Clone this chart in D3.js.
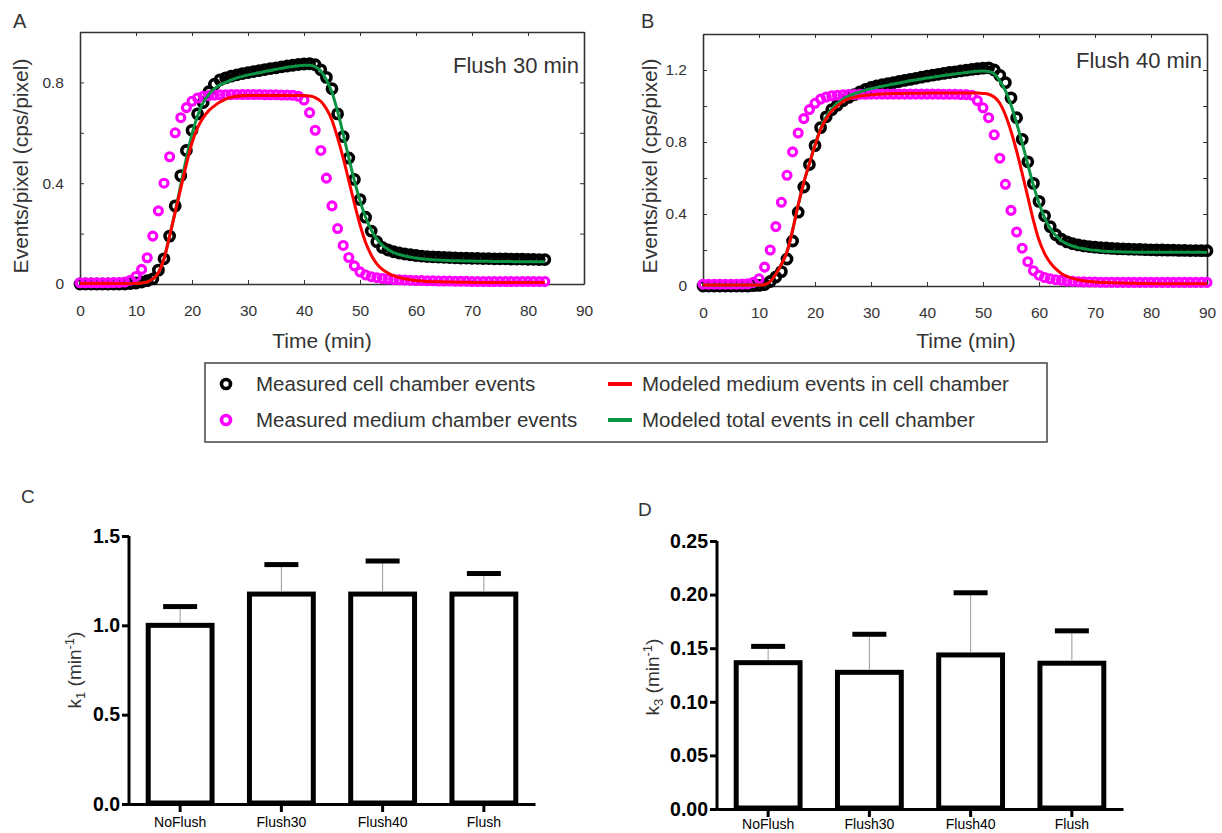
<!DOCTYPE html>
<html>
<head>
<meta charset="utf-8">
<script src="https://cdn.jsdelivr.net/npm/d3@7"></script>
<style>
  body { margin: 0; background: #fff; }
  svg text { font-family: "Liberation Sans", Arial, sans-serif; }
</style>
</head>
<body>
<svg id="fig" width="1222" height="833"></svg>
<script>
// sample times (min)
const minutesA = d3.range(0, 84);
const minutesB = d3.range(0, 91);

// panel A - flush 30 min
const cellA = [
  0, 0, 0, 0, 0, 0, 0, 0, 0, 0.002,
  0.004, 0.008, 0.013, 0.02, 0.055, 0.10, 0.19, 0.31, 0.43, 0.53,
  0.61, 0.675, 0.72, 0.763, 0.793, 0.81, 0.818, 0.825, 0.83, 0.835,
  0.839, 0.843, 0.847, 0.851, 0.855, 0.858, 0.862, 0.865, 0.868, 0.871,
  0.873, 0.874, 0.87, 0.85, 0.82, 0.775, 0.675, 0.585, 0.50, 0.415,
  0.335, 0.265, 0.21, 0.168, 0.145, 0.135, 0.128, 0.123, 0.119, 0.116,
  0.113, 0.111, 0.109, 0.108, 0.107, 0.106, 0.105, 0.104, 0.103, 0.103,
  0.102, 0.102, 0.101, 0.101, 0.1, 0.1, 0.1, 0.099, 0.099, 0.099,
  0.098, 0.098, 0.097, 0.097
];
const mediumA = [
  0.005, 0.005, 0.005, 0.005, 0.005, 0.005, 0.006, 0.006, 0.008, 0.015,
  0.03, 0.058, 0.104, 0.19, 0.29, 0.40, 0.505, 0.60, 0.66, 0.70,
  0.725, 0.738, 0.745, 0.748, 0.75, 0.751, 0.751, 0.752, 0.752, 0.752,
  0.752, 0.752, 0.752, 0.751, 0.751, 0.751, 0.75, 0.75, 0.749, 0.745,
  0.73, 0.68, 0.61, 0.53, 0.42, 0.31, 0.22, 0.153, 0.105, 0.072,
  0.048, 0.036, 0.029, 0.025, 0.022, 0.02, 0.018, 0.017, 0.016, 0.015,
  0.014, 0.014, 0.013, 0.013, 0.012, 0.012, 0.012, 0.011, 0.011, 0.011,
  0.01, 0.01, 0.01, 0.01, 0.01, 0.01, 0.01, 0.01, 0.01, 0.01,
  0.01, 0.01, 0.01, 0.01
];
const modelMediumA = [
  0.002, 0.002, 0.002, 0.002, 0.002, 0.002, 0.002, 0.002, 0.002, 0.002,
  0.002, 0.004, 0.008, 0.02, 0.045, 0.10, 0.19, 0.285, 0.38, 0.475,
  0.56, 0.62, 0.66, 0.688, 0.707, 0.722, 0.734, 0.741, 0.745, 0.747,
  0.748, 0.748, 0.748, 0.748, 0.748, 0.748, 0.748, 0.748, 0.748, 0.748,
  0.748, 0.746, 0.74, 0.725, 0.695, 0.65, 0.58, 0.50, 0.41, 0.32,
  0.235, 0.165, 0.115, 0.08, 0.058, 0.043, 0.033, 0.026, 0.021, 0.017,
  0.014, 0.012, 0.01, 0.009, 0.009, 0.008, 0.008, 0.007, 0.007, 0.007,
  0.006, 0.006, 0.006, 0.006, 0.006, 0.006, 0.006, 0.006, 0.006, 0.006,
  0.006, 0.006, 0.006, 0.006
];
const modelTotalA = [
  0.002, 0.002, 0.002, 0.002, 0.002, 0.002, 0.002, 0.002, 0.002, 0.002,
  0.002, 0.004, 0.008, 0.02, 0.045, 0.10, 0.19, 0.287, 0.395, 0.50,
  0.595, 0.668, 0.72, 0.752, 0.775, 0.79, 0.80, 0.81, 0.818, 0.824,
  0.83, 0.834, 0.838, 0.843, 0.847, 0.852, 0.856, 0.86, 0.863, 0.866,
  0.868, 0.868, 0.862, 0.845, 0.81, 0.76, 0.685, 0.595, 0.50, 0.41,
  0.33, 0.265, 0.215, 0.178, 0.153, 0.137, 0.125, 0.117, 0.111, 0.107,
  0.103, 0.1, 0.098, 0.096, 0.095, 0.094, 0.093, 0.092, 0.092, 0.091,
  0.091, 0.09, 0.09, 0.09, 0.089, 0.089, 0.089, 0.089, 0.088, 0.088,
  0.088, 0.088, 0.088, 0.088
];

// panel B - flush 40 min
const cellB = [
  0, 0, 0, 0, 0, 0, 0, 0, 0, 0.002,
  0.003, 0.008, 0.025, 0.05, 0.08, 0.15, 0.25, 0.41, 0.55, 0.675,
  0.78, 0.88, 0.94, 0.98, 1.005, 1.03, 1.048, 1.063, 1.078, 1.092,
  1.103, 1.111, 1.118, 1.124, 1.13, 1.136, 1.142, 1.148, 1.154, 1.16,
  1.166, 1.171, 1.176, 1.181, 1.186, 1.19, 1.195, 1.199, 1.203, 1.207,
  1.21, 1.212, 1.2, 1.17, 1.13, 1.045, 0.935, 0.815, 0.69, 0.57,
  0.47, 0.39, 0.33, 0.285, 0.26, 0.245, 0.235, 0.228, 0.223, 0.219,
  0.216, 0.213, 0.211, 0.209, 0.207, 0.206, 0.205, 0.204, 0.203, 0.202,
  0.201, 0.2, 0.2, 0.199, 0.199, 0.198, 0.198, 0.197, 0.197, 0.196,
  0.196
];
const mediumB = [
  0.01, 0.01, 0.01, 0.01, 0.01, 0.01, 0.01, 0.011, 0.012, 0.02,
  0.04, 0.105, 0.2, 0.33, 0.465, 0.615, 0.745, 0.85, 0.93, 0.98,
  1.015, 1.038, 1.05, 1.057, 1.06, 1.062, 1.063, 1.064, 1.065, 1.065,
  1.066, 1.066, 1.066, 1.066, 1.066, 1.066, 1.066, 1.066, 1.066, 1.066,
  1.066, 1.066, 1.066, 1.065, 1.065, 1.065, 1.064, 1.063, 1.06, 1.03,
  0.99, 0.935, 0.84, 0.71, 0.565, 0.42, 0.30, 0.21, 0.135, 0.085,
  0.06, 0.047, 0.04, 0.035, 0.031, 0.028, 0.026, 0.024, 0.023, 0.022,
  0.022, 0.021, 0.021, 0.021, 0.02, 0.02, 0.02, 0.02, 0.02, 0.02,
  0.02, 0.02, 0.02, 0.02, 0.02, 0.02, 0.02, 0.02, 0.02, 0.02,
  0.02
];
const modelMediumB = [
  0.005, 0.005, 0.005, 0.005, 0.005, 0.005, 0.005, 0.005, 0.005, 0.005,
  0.005, 0.008, 0.025, 0.065, 0.12, 0.19, 0.31, 0.45, 0.575, 0.68,
  0.78, 0.87, 0.93, 0.972, 1.0, 1.025, 1.04, 1.048, 1.055, 1.059,
  1.062, 1.065, 1.067, 1.068, 1.069, 1.07, 1.07, 1.071, 1.071, 1.071,
  1.072, 1.072, 1.072, 1.072, 1.072, 1.072, 1.072, 1.072, 1.072, 1.072,
  1.07, 1.065, 1.05, 1.015, 0.95, 0.86, 0.75, 0.625, 0.495, 0.365,
  0.255, 0.18, 0.13, 0.095, 0.07, 0.053, 0.042, 0.034, 0.029, 0.025,
  0.022, 0.02, 0.019, 0.018, 0.017, 0.016, 0.015, 0.015, 0.014, 0.014,
  0.013, 0.013, 0.013, 0.013, 0.013, 0.013, 0.013, 0.013, 0.013, 0.013,
  0.012
];
const modelTotalB = [
  0.005, 0.005, 0.005, 0.005, 0.005, 0.005, 0.005, 0.005, 0.005, 0.005,
  0.005, 0.008, 0.025, 0.065, 0.12, 0.19, 0.31, 0.45, 0.575, 0.68,
  0.785, 0.875, 0.94, 0.985, 1.015, 1.038, 1.055, 1.068, 1.078, 1.088,
  1.096, 1.103, 1.11, 1.116, 1.122, 1.128, 1.134, 1.14, 1.145, 1.15,
  1.155, 1.16, 1.165, 1.17, 1.174, 1.178, 1.182, 1.186, 1.19, 1.193,
  1.195, 1.192, 1.178, 1.14, 1.085, 1.005, 0.905, 0.795, 0.675, 0.56,
  0.46, 0.38, 0.32, 0.28, 0.252, 0.234, 0.222, 0.213, 0.207, 0.202,
  0.198, 0.195, 0.193, 0.191, 0.19, 0.189, 0.189, 0.188, 0.188, 0.188,
  0.187, 0.187, 0.187, 0.187, 0.187, 0.187, 0.187, 0.187, 0.187, 0.187,
  0.186
];

// panels C and D - rate constants
const groups = ["NoFlush", "Flush30", "Flush40", "Flush"];
const k1Mean = [1.0, 1.175, 1.175, 1.175];
const k1Sd = [0.105, 0.165, 0.185, 0.115];
const k3Mean = [0.1365, 0.1275, 0.1437, 0.136];
const k3Sd = [0.0152, 0.0355, 0.058, 0.0302];

const timeTicks = [0, 10, 20, 30, 40, 50, 60, 70, 80, 90];
const legendItems = [
  { label: "Measured cell chamber events", kind: "dot", color: "#000" },
  { label: "Measured medium chamber events", kind: "dot", color: "#ff00ff" },
  { label: "Modeled medium events in cell chamber", kind: "line", color: "#ff0000" },
  { label: "Modeled total events in cell chamber", kind: "line", color: "#0b9444" }
];

const TEXT = "#333";
const svg = d3.select("#fig");

function drawTrace(o) {
  const x = d3.scaleLinear().domain([0, 90]).range([o.left, o.right]);
  const y = d3.scaleLinear().domain([0, o.yMax]).range([o.bottom, o.top]);
  const g = svg.append("g");

  const yFmt = d => {
    if (Math.round(d * 10) % 4 !== 0) return "";
    return d === 0 ? "0" : d3.format(".1f")(d);
  };
  const yTicks = y.ticks(Math.round(o.yMax / 0.2));

  // frame + inward ticks on all four sides
  g.append("g").attr("transform", `translate(0,${o.bottom})`)
    .call(d3.axisBottom(x).tickValues(timeTicks).tickSizeInner(-4).tickSizeOuter(0).tickPadding(21));
  g.append("g").attr("transform", `translate(0,${o.top})`)
    .call(d3.axisTop(x).tickValues(timeTicks).tickSizeInner(-4).tickSizeOuter(0).tickFormat(""));
  g.append("g").attr("transform", `translate(${o.left},0)`)
    .call(d3.axisLeft(y).tickValues(yTicks).tickSizeInner(-4).tickSizeOuter(0).tickPadding(16).tickFormat(yFmt));
  g.append("g").attr("transform", `translate(${o.right},0)`)
    .call(d3.axisRight(y).tickValues(yTicks).tickSizeInner(-4).tickSizeOuter(0).tickFormat(""));

  g.selectAll(".domain").attr("stroke", "#333").attr("stroke-width", 1.6);
  g.selectAll(".tick line").attr("stroke", "#333").attr("stroke-width", 1);
  g.selectAll(".tick text").attr("fill", TEXT).attr("font-size", 15.5)
    .attr("font-family", '"Liberation Sans", Arial, sans-serif');

  const pts = (ts, vs) => ts.map((t, i) => [t, vs[i]]);

  g.append("g").selectAll("circle").data(pts(o.t, o.cell)).join("circle")
    .attr("cx", d => x(d[0])).attr("cy", d => y(d[1])).attr("r", 4.6)
    .attr("fill", "none").attr("stroke", "#000").attr("stroke-width", 3.6);
  g.append("g").selectAll("circle").data(pts(o.t, o.medium)).join("circle")
    .attr("cx", d => x(d[0])).attr("cy", d => y(d[1])).attr("r", 4.0)
    .attr("fill", "none").attr("stroke", "#ff00ff").attr("stroke-width", 3.1);

  const line = d3.line().x(d => x(d[0])).y(d => y(d[1])).curve(d3.curveMonotoneX);
  g.append("path").datum(pts(o.t, o.total)).attr("d", line)
    .attr("fill", "none").attr("stroke", "#0b9444").attr("stroke-width", 3);
  g.append("path").datum(pts(o.t, o.model)).attr("d", line)
    .attr("fill", "none").attr("stroke", "#ff0000").attr("stroke-width", 3);

  g.append("text").attr("x", o.right - 5).attr("y", o.top + o.noteDy)
    .attr("text-anchor", "end").attr("font-size", 22).attr("fill", TEXT).text(o.note);
  g.append("text").attr("x", o.titleX).attr("y", 348)
    .attr("text-anchor", "middle").attr("font-size", 21).attr("fill", TEXT).text("Time (min)");
  g.append("text").attr("transform", `translate(${o.yTitleX},166) rotate(-90)`)
    .attr("text-anchor", "middle").attr("dy", "0.35em").attr("font-size", 21).attr("fill", TEXT)
    .text("Events/pixel (cps/pixel)");
  g.append("text").attr("x", o.letterX).attr("y", 28)
    .attr("font-size", 20).attr("fill", TEXT).text(o.letter);
}

drawTrace({
  left: 80, right: 584, top: 32, bottom: 284, yMax: 1.0,
  t: minutesA, cell: cellA, medium: mediumA, model: modelMediumA, total: modelTotalA,
  note: "Flush 30 min", noteDy: 41, titleX: 322, yTitleX: 21, letter: "A", letterX: 13
});
drawTrace({
  left: 703, right: 1207, top: 34, bottom: 286, yMax: 1.4,
  t: minutesB, cell: cellB, medium: mediumB, model: modelMediumB, total: modelTotalB,
  note: "Flush 40 min", noteDy: 34, titleX: 966, yTitleX: 650, letter: "B", letterX: 641
});

// legend
const leg = svg.append("g");
leg.append("rect").attr("x", 205).attr("y", 363).attr("width", 842).attr("height", 79)
  .attr("fill", "none").attr("stroke", "#444").attr("stroke-width", 1.5);
legendItems.forEach((d, i) => {
  const col = Math.floor(i / 2), row = i % 2;
  const cy = 384 + row * 36;
  if (d.kind === "dot") {
    leg.append("circle").attr("cx", 226).attr("cy", cy).attr("r", 4.5)
      .attr("fill", "none").attr("stroke", d.color).attr("stroke-width", 3.6);
  } else {
    leg.append("line").attr("x1", 608).attr("x2", 632).attr("y1", cy).attr("y2", cy)
      .attr("stroke", d.color).attr("stroke-width", 4);
  }
  leg.append("text").attr("x", col === 0 ? 256 : 642).attr("y", cy).attr("dy", "0.35em")
    .attr("font-size", 20.5).attr("fill", TEXT).text(d.label);
});

function drawBars(o) {
  const x = d3.scaleBand().domain(groups).range([o.left, o.right])
    .paddingInner(0.32).paddingOuter(0.165);
  const y = d3.scaleLinear().domain([0, o.yMax]).range([o.bottom, o.top]);
  const g = svg.append("g");

  const rows = groups.map((k, i) => ({ k, m: o.mean[i], s: o.sd[i] }));

  const bw = x.bandwidth();
  g.append("g").selectAll("rect").data(rows).join("rect")
    .attr("x", d => x(d.k) + 2.5).attr("width", bw - 5)
    .attr("y", d => y(d.m)).attr("height", d => o.bottom - y(d.m) - 1)
    .attr("fill", "#fff").attr("stroke", "#000").attr("stroke-width", 5);

  g.append("g").selectAll("line").data(rows).join("line")
    .attr("x1", d => x(d.k) + bw / 2).attr("x2", d => x(d.k) + bw / 2)
    .attr("y1", d => y(d.m) - 2.5).attr("y2", d => y(d.m + d.s))
    .attr("stroke", "#999").attr("stroke-width", 1);
  g.append("g").selectAll("rect").data(rows).join("rect")
    .attr("x", d => x(d.k) + bw / 2 - 17).attr("width", 34)
    .attr("y", d => y(d.m + d.s) - 2.5).attr("height", 5).attr("fill", "#000");

  const yAx = g.append("g").attr("transform", `translate(${o.left},0)`)
    .call(d3.axisLeft(y).tickValues(o.ticks).tickFormat(d3.format(o.fmt)).tickSize(7).tickPadding(2));
  yAx.selectAll("text").attr("font-size", 19.5).attr("font-weight", "bold").attr("fill", "#000");
  yAx.select(".domain").attr("d", `M0,${o.top}V${o.bottom + 1.5}`);

  const xAx = g.append("g").attr("transform", `translate(0,${o.bottom})`)
    .call(d3.axisBottom(x).tickSize(8).tickSizeOuter(0).tickPadding(o.labelPad));
  xAx.selectAll("text").attr("font-size", 14).attr("fill", "#000")
    .attr("font-family", '"Liberation Sans Narrow", "Liberation Sans", Arial, sans-serif');

  g.selectAll(".domain, .tick line").attr("stroke", "#000").attr("stroke-width", 3);

  const lab = g.append("text").attr("transform", `translate(${o.yTitleX},${o.yTitleY}) rotate(-90)`)
    .attr("text-anchor", "middle").attr("dy", "0.35em").attr("font-size", 19).attr("fill", TEXT);
  lab.append("tspan").text("k");
  lab.append("tspan").attr("font-size", 13).attr("dy", 4).text(o.sub);
  lab.append("tspan").attr("dy", -4).text(" (min");
  lab.append("tspan").attr("font-size", 13).attr("dy", -7).text("-1");
  lab.append("tspan").attr("dy", 7).text(")");

  g.append("text").attr("x", o.letterX).attr("y", o.letterY)
    .attr("font-size", 19).attr("fill", TEXT).text(o.letter);
}

drawBars({
  left: 129, right: 535, top: 536, bottom: 804, yMax: 1.5, labelPad: 5,
  ticks: [0, 0.5, 1.0, 1.5], fmt: ".1f", mean: k1Mean, sd: k1Sd, sub: "1",
  yTitleX: 74, yTitleY: 670, letter: "C", letterX: 21, letterY: 503
});
drawBars({
  left: 717, right: 1123, top: 541, bottom: 809, yMax: 0.25, labelPad: 2,
  ticks: [0, 0.05, 0.10, 0.15, 0.20, 0.25], fmt: ".2f", mean: k3Mean, sd: k3Sd, sub: "3",
  yTitleX: 652, yTitleY: 677, letter: "D", letterX: 638, letterY: 516
});
</script>
</body>
</html>
